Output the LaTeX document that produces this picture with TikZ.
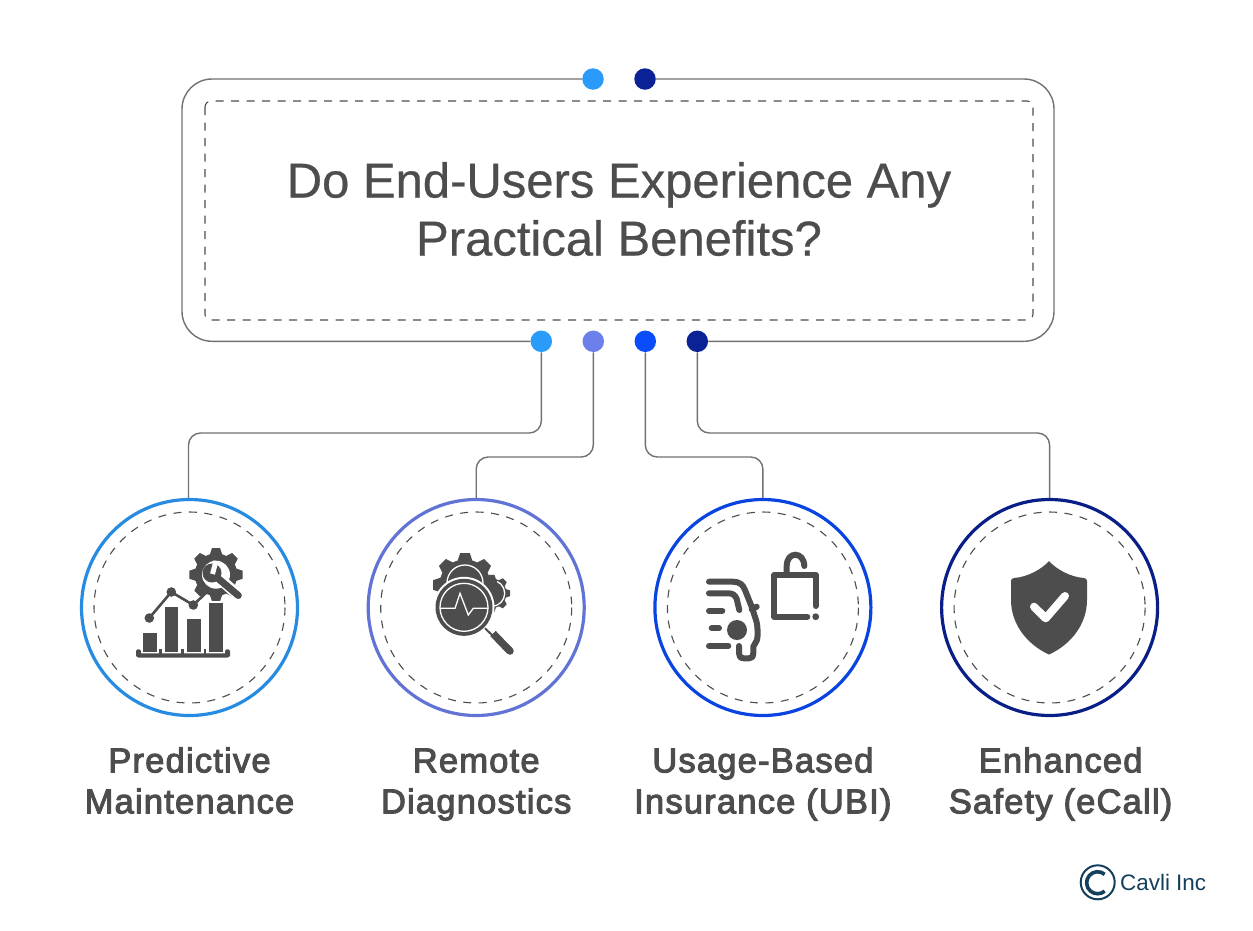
\documentclass[tikz,border=0pt]{standalone}
\usepackage{fontspec}
\usetikzlibrary{positioning}
\setmainfont{Liberation Sans}
\newfontfamily\labelfont[FakeBold=3,LetterSpace=3.5]{Liberation Sans}
\newfontfamily\titlefont[FakeBold=0.5]{Liberation Sans}
\definecolor{skyblue}{HTML}{2A9BFA}
\definecolor{lilac}{HTML}{6C80EC}
\definecolor{royal}{HTML}{0A4BFA}
\definecolor{navy}{HTML}{0A2296}
\definecolor{ink}{HTML}{4D4D4D}
\definecolor{brand}{HTML}{143F5C}

% gear: centre x, centre y, radius
\newcommand{\cogfill}[3]{%
  \fill[ink] (#1,#2) circle ({0.8*#3});
  \foreach \k in {0,...,7}
    \fill[ink,shift={(#1,#2)},rotate=\k*45]
      ({-0.25*#3},{0.7*#3}) -- ({-0.15*#3},{#3}) -- ({0.15*#3},{#3}) -- ({0.25*#3},{0.7*#3}) -- cycle;
}

\begin{document}
\begin{tikzpicture}[x=1pt, y=-1pt, node distance=286.7pt,
  frame/.style={draw=ink!80, line width=1.4pt, rounded corners=30pt},
  hole/.style={draw=ink, line width=1.1pt, dash pattern=on 8pt off 7.5pt},
  link/.style={draw=ink!80, line width=1.4pt, rounded corners=12pt},
  dot/.style={circle, minimum size=21.5pt, inner sep=0pt},
  badge/.style={circle, draw, line width=3.2pt, minimum size=216pt, inner sep=0pt},
  caption/.style={font=\labelfont\fontsize{34.5}{41}\selectfont, text=ink, align=center},
  stroke/.style={draw=ink, line width=6pt, line cap=round, line join=round}]

  \useasboundingbox[fill=white] (0,0) rectangle (1253,930);

  % top box
  \node[dot, fill=skyblue] (topa) at (593,79) {};
  \node[dot, fill=navy, right of=topa, node distance=52pt] (topb) {};
  \node[dot, fill=skyblue] (bota) at (541.3,341.3) {};
  \node[dot, fill=lilac, right of=bota, node distance=52pt] (botb) {};
  \node[dot, fill=royal, right of=botb, node distance=52pt] (botc) {};
  \node[dot, fill=navy, right of=botc, node distance=52pt] (botd) {};

  \draw[frame] (topa) -- (182,79) -- (182,341.3) -- (bota);
  \draw[frame] (topb) -- (1054,79) -- (1054,341.3) -- (botd);
  \draw[hole, rounded corners=6pt] (205,101) rectangle (1033,320);

  \node[font=\titlefont\fontsize{49}{58}\selectfont, text=ink, align=center] (title) at (619,209)
    {Do End-Users Experience Any\\Practical Benefits?};

  % circles
  \node[badge, draw=skyblue!90!black] (circa) at (189.5,607.5) {};
  \node[badge, draw=lilac!90!black, right of=circa] (circb) {};
  \node[badge, draw=royal!90!black, right of=circb] (circc) {};
  \node[badge, draw=navy!90!black, right of=circc] (circd) {};
  \foreach \c in {circa,circb,circc,circd}
    \draw[hole] (\c) circle (95.5);

  \coordinate (busout) at (0,433);
  \coordinate (busin) at (0,457);
  \draw[link] (bota) -- (bota |- busout) -- ([xshift=-1pt]circa.north |- busout) -- ([xshift=-1pt]circa.north);
  \draw[link] (botb) -- (botb |- busin) -- (circb.north |- busin) -- (circb.north);
  \draw[link] (botc) -- (botc |- busin) -- (circc.north |- busin) -- (circc.north);
  \draw[link] (botd) -- (botd |- busout) -- (circd.north |- busout) -- (circd.north);

  % captions
  \node[caption, below=23pt of circa] (capa) {\strut Predictive\\\strut Maintenance};
  \node[caption, below=23pt of circb] (capb) {\strut Remote\\\strut Diagnostics};
  \node[caption, below=23pt of circc] (capc) {\strut Usage-Based\\\strut Insurance (UBI)};
  \node[caption, below=23pt of circd, xshift=11pt] (capd) {\strut Enhanced\\\strut Safety (eCall)};

  % icon: chart and gear
  \cogfill{216}{574.7}{26.7}
  \fill[white] (216,574.7) circle (14);
  \draw[white, line width=11pt, line cap=round] (218,577) -- (238.3,595.5);
  \fill[ink] (212,573) circle (9.5);
  \draw[ink, line width=7pt, line cap=round] (214,575) -- (238.3,595.5);
  \draw[white, line width=5pt] (212.5,574) -- (216,561);
  \draw[ink, line width=2.6pt] (149.3,618) -- (171.3,592) -- (193.3,605) -- (207,592);
  \foreach \px/\py in {149.3/618, 171.3/592, 193.3/605}
    \fill[ink] (\px,\py) circle (4.8);
  \fill[white] (207,601) rectangle (225,606);
  \foreach \bx/\bw/\bt in {142.7/14/632.7, 164.7/13.6/606.7, 187.3/13.4/619.3, 209.3/13.4/603.3}
    \fill[ink] (\bx,\bt) rectangle ++(\bw,{651.7-\bt});
  \fill[ink, rounded corners=2.5pt] (136,653.3) rectangle (230,657.5);
  \fill[ink, rounded corners=1.5pt] (136,649.3) rectangle (141,656);
  \fill[ink, rounded corners=1.5pt] (225,649.3) rectangle (230,656);
  \foreach \tx in {160.7,182.7,205}
    \fill[ink] ({\tx-1.4},649.3) rectangle ({\tx+1.4},654);

  % icon: gears and magnifier
  \cogfill{491.7}{593.3}{18.5}
  \draw[white, line width=1.3pt] (491.7,593.3) circle (13);
  \cogfill{465}{585}{32}
  \draw[white, line width=1.3pt] (465,583) circle (18);
  \fill[white] (464,607.3) circle (30.5);
  \fill[ink] (464,607.3) circle (28.5);
  \draw[white, line width=1.3pt] (464,607.3) circle (24);
  \draw[white, line width=1.3pt] (440,608.3) -- (455,608.3) -- (460,593.3) -- (468.3,615) -- (473.3,608.3) -- (488.3,608.3);
  \draw[ink, line width=2pt] (485,628.3) -- (492,635);
  \draw[ink, line width=7.5pt] (493,633.5) -- (506,647);
  \draw[ink, line width=7.5pt, line cap=round] (506,647) -- (510,651);

  % icon: car and open lock
  \draw[stroke] (709,581.7) -- (733,581.7) .. controls (740,581.7) and (743,585) .. (745,590)
    -- (751.7,606.7) -- (756,620) .. controls (758,626) and (758,636) .. (757,640) -- (753.3,646.7)
    -- (753.3,653) .. controls (753,657) and (752,658.3) .. (749,658.3) -- (744,658.3)
    .. controls (740,658.3) and (739,656) .. (739,653) -- (739,646);
  \draw[stroke] (709,593.3) -- (728,593.3) .. controls (733,593.3) and (735,595) .. (736.7,599) -- (739.3,610);
  \draw[stroke] (709,610.7) -- (722.3,610.7);
  \draw[stroke] (711.7,628.3) -- (719,628.3);
  \draw[stroke] (709,646) -- (728.3,646);
  \draw[stroke] (751.7,609.3) -- (756.7,606.7);
  \fill[ink] (737,630) circle (10);
  \draw[stroke] (807.3,616.7) -- (774.3,616.7) -- (774.3,575) -- (815.7,575) -- (815.7,606);
  \fill[ink] (815.7,616.7) circle (3.4);
  \draw[stroke, line join=miter] (786.7,573) -- (786.7,566) .. controls (786.7,551) and (804,551) .. (804.3,566);

  % icon: shield
  \fill[ink] (1049,561) .. controls (1056,569) and (1070,577) .. (1084,578) .. controls (1086,578.3) and (1087,579.5) .. (1087,581)
    -- (1087,600) .. controls (1087,625) and (1070,645) .. (1049,654.5)
    .. controls (1028,645) and (1011,625) .. (1011,600) -- (1011,581)
    .. controls (1011,579.5) and (1012,578.3) .. (1014,578) .. controls (1028,577) and (1042,569) .. (1049,561) -- cycle;
  \draw[white, line width=8pt, line cap=round, line join=round] (1034,606.7) -- (1045.7,618.3) -- (1065,596);

  % logo
  \node[circle, draw=brand, line width=2pt, minimum size=34pt, inner sep=0pt] (logo) at (1097.7,882.3) {};
  \draw[brand, line width=3.6pt] (logo.center) ++(7,-8) arc[start angle=-50, end angle=-310, radius=11];
  \node[font=\fontsize{22.4}{24}\selectfont, text=brand, right=1pt of logo] (brandname) {Cavli Inc};
\end{tikzpicture}
\end{document}
